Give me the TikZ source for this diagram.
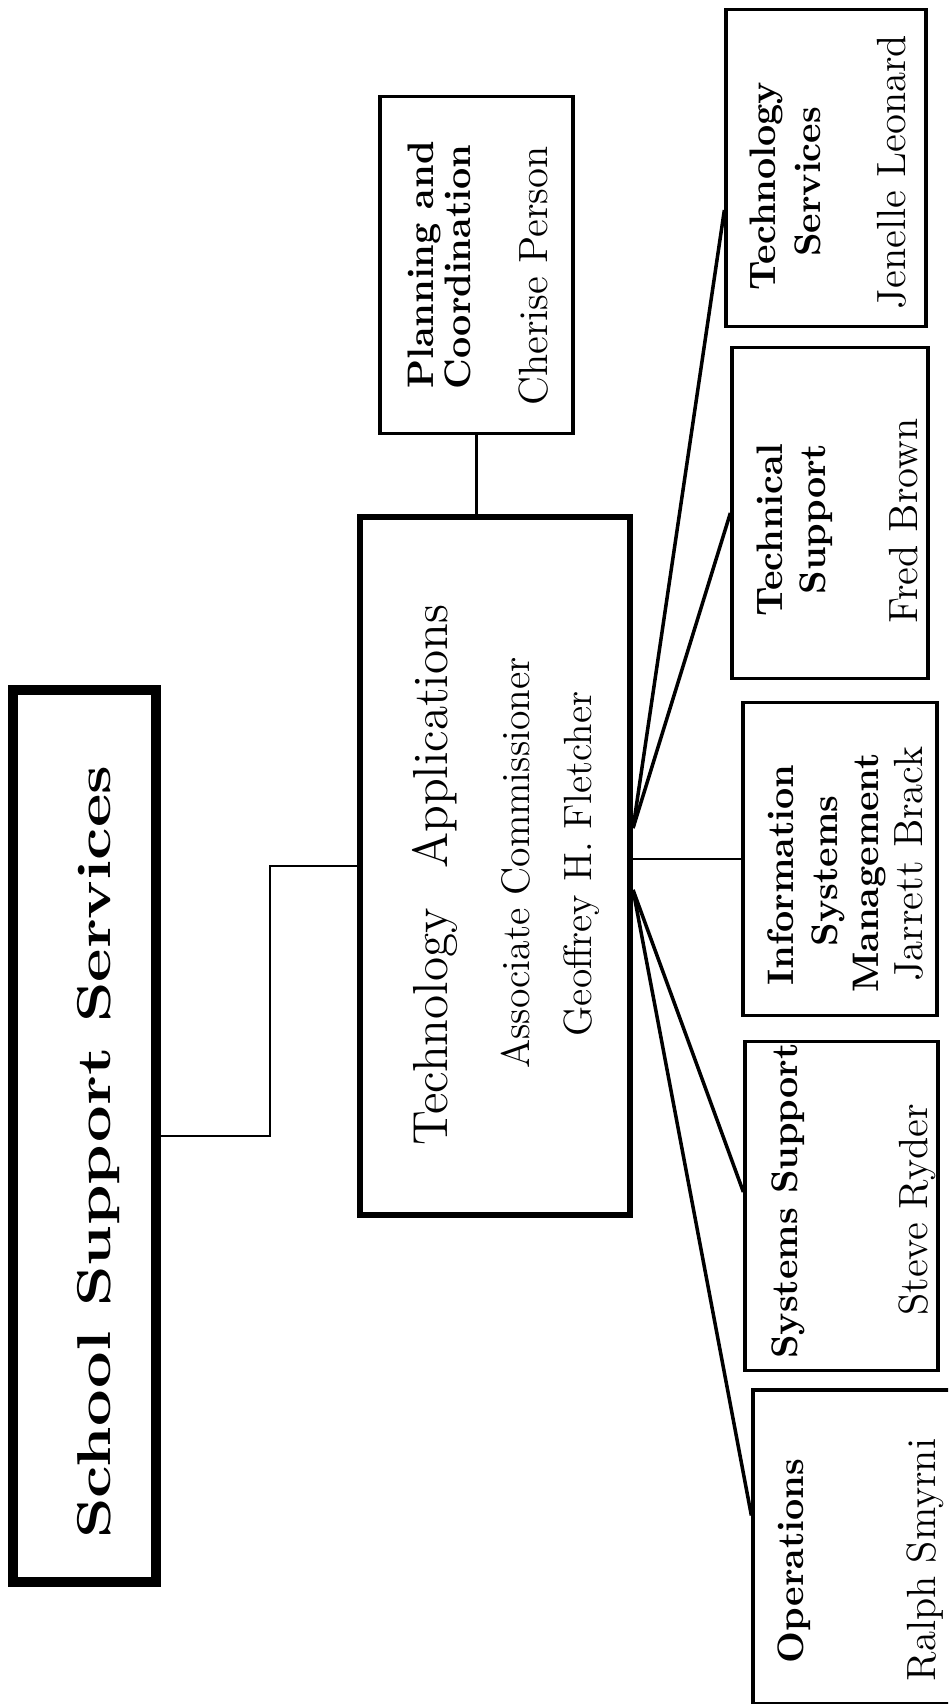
\documentclass[tikz,border=0pt]{standalone}
\usepackage{graphicx}
\usetikzlibrary{calc}

\begin{document}
\begin{tikzpicture}[x=0.01cm, y=-0.01cm,
        unit/.style={draw, rectangle, inner sep=0pt, line width=0.9pt},
        ttl/.style={rotate=90, anchor=base, inner sep=0pt, font=\fontsize{10.5}{12}\selectfont\bfseries},
        who/.style={rotate=90, anchor=base, inner sep=0pt, font=\fontsize{11.6}{13}\selectfont},
        link/.style={line width=0.8pt}]
    \useasboundingbox (0,0) rectangle (948,1704);
    \clip (0,0) rectangle (948,1704);

    % top of the chart
    \node[unit, line width=2.85pt, minimum width=1.43cm, minimum height=8.92cm] (sss) at (84.5,1136) {};
    \node[rotate=90, anchor=base, inner sep=0pt, font=\fontsize{13.5}{16}\selectfont\bfseries] (sss-t) at (110,1152) {\scalebox{1.37}[1]{School Support Services}};

    \node[unit, line width=1.7pt, minimum width=2.7cm, minimum height=6.98cm] (ta) at (495,866) {};
    \node[who, font=\fontsize{14}{16}\selectfont] (ta-a) at (447,875) {Technology\hspace{0.8em}Applications};
    \node[who, font=\fontsize{11.3}{13}\selectfont] (ta-b) at (529,863) {Associate Commissioner};
    \node[who, font=\fontsize{11.2}{13}\selectfont] (ta-c) at (591,864) {Geoffrey H. Fletcher};

    \node[unit, minimum width=1.93cm, minimum height=3.36cm] (plan) at (476.5,265) {};
    \node[ttl] (plan-a) at (433,265) {Planning and};
    \node[ttl] (plan-b) at (470,267) {Coordination};
    \node[who] (plan-n) at (547,276) {Cherise Person};

    % divisions
    \node[unit, minimum width=2cm, minimum height=3.16cm] (tserv) at (826,168) {};
    \node[ttl] (tserv-a) at (775,186) {Technology};
    \node[ttl] (tserv-b) at (820,182) {Services};
    \node[who] (tserv-n) at (905,172) {Jenelle Leonard};

    \node[unit, minimum width=1.96cm, minimum height=3.3cm] (tsup) at (830,513) {};
    \node[ttl] (tsup-a) at (782,530) {Technical};
    \node[ttl] (tsup-b) at (825,519) {Support};
    \node[who] (tsup-n) at (917,521) {Fred Brown};

    \node[unit, minimum width=1.94cm, minimum height=3.12cm] (ism) at (840,859) {};
    \node[ttl] (ism-a) at (793,875) {Information};
    \node[ttl] (ism-b) at (837,871) {Systems};
    \node[ttl] (ism-c) at (878,873) {Management};
    \node[who] (ism-n) at (922,864) {Jarrett Brack};

    \node[unit, minimum width=1.93cm, minimum height=3.28cm] (syss) at (841.5,1206) {};
    \node[ttl] (syss-a) at (797,1201) {Systems Support};
    \node[who] (syss-n) at (927,1210) {Steve Ryder};

    \node[unit, minimum width=2.1cm, minimum height=3.13cm] (ops) at (858,1546.5) {};
    \node[ttl] (ops-a) at (803,1561) {Operations};
    \node[who] (ops-n) at (935,1560) {Ralph Smyrni};

    % connectors
    \coordinate (bend) at (270,1000);
    \draw[link] (sss.east) -| (bend) |- (ta.west);
    \draw[link] (plan.south) -- (plan.south |- ta.north);
    \draw[link, line width=1pt] ($(ta.east)+(0,-38)$) -- ($(tserv.west)+(0,42)$);
    \draw[link, line width=1pt] ($(ta.east)+(0,-38)$) -- (tsup.west);
    \draw[link] (ta.east |- ism.west) -- (ism.west);
    \draw[link, line width=1pt] ($(ta.east)+(0,24)$) -- ($(syss.west)+(0,-14)$);
    \draw[link, line width=1pt] ($(ta.east)+(0,24)$) -- ($(ops.west)+(0,-31)$);
\end{tikzpicture}
\end{document}
